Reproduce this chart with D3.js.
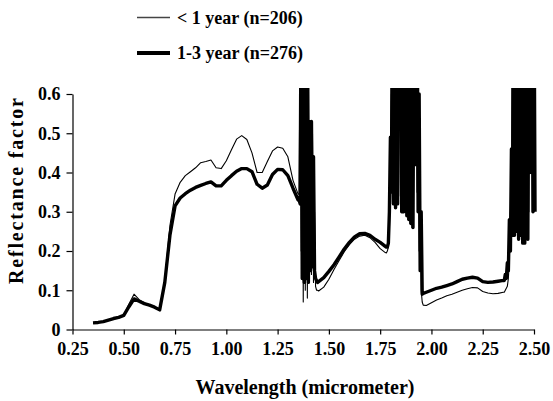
<!DOCTYPE html>
<html>
<head>
<meta charset="utf-8">
<script src="https://cdn.jsdelivr.net/npm/d3@7"></script>
<style>
    body { margin: 0; background: #fff; }
    text { font-family: "Liberation Serif", "Times New Roman", serif; font-weight: bold; fill: #000; }
</style>
</head>
<body>
<div id="chart"></div>
<script>
// sampling grid of the spectra (finer where the water bands are noisy)
const wavelength = [
    ...d3.range(0.35, 1.3501, 0.025),
    ...d3.range(1.355, 1.4451, 0.005),
    ...d3.range(1.45, 1.7751, 0.025),
    ...d3.range(1.78, 1.9601, 0.005),
    ...d3.range(1.975, 2.3501, 0.025),
    ...d3.range(2.355, 2.5051, 0.005)
];

// < 1 year (n=206)
const lessThan1Year = [
    0.016, 0.017, 0.019, 0.023, 0.027, 0.030, 0.036, 0.065, 0.090, 0.076, 0.068, 0.063, 0.058, 0.050,
    0.125, 0.265, 0.345, 0.375, 0.392, 0.402, 0.412, 0.425, 0.428, 0.432, 0.412, 0.410, 0.430, 0.458,
    0.485, 0.494, 0.484, 0.450, 0.400, 0.400, 0.428, 0.455, 0.465, 0.462, 0.440, 0.380, 0.345,
    // 1.355 - 1.445
    0.345, 0.80, 0.20, 0.85, 0.07, 0.90, 0.10, 0.80, 0.08, 0.70, 0.12, 0.45, 0.14, 0.50, 0.12, 0.30, 0.11, 0.10, 0.10,
    // 1.45 - 1.775
    0.098, 0.108, 0.128, 0.153, 0.176, 0.198, 0.216, 0.230, 0.238, 0.240, 0.234, 0.222, 0.206, 0.196,
    // 1.78 - 1.96
    0.195, 0.20, 0.21, 0.25, 0.40, 0.60, 0.32, 0.90, 0.31, 0.85, 0.33, 0.90, 0.34, 0.90, 0.85, 0.90, 0.30, 0.85, 0.31,
    0.90, 0.85, 0.28, 0.90, 0.27, 0.80, 0.26, 0.85, 0.90, 0.85, 0.90, 0.35, 0.70, 0.20, 0.40, 0.10, 0.07, 0.062,
    // 1.975 - 2.35
    0.061, 0.068, 0.075, 0.080, 0.086, 0.090, 0.095, 0.100, 0.104, 0.107, 0.106, 0.097, 0.093, 0.091, 0.092, 0.095,
    // 2.355 - 2.505
    0.095, 0.10, 0.105, 0.11, 0.13, 0.18, 0.30, 0.25, 0.80, 0.26, 0.90, 0.25, 0.85, 0.24, 0.90, 0.25,
    0.85, 0.23, 0.90, 0.24, 0.80, 0.50, 0.90, 0.85, 0.30, 0.90, 0.85, 0.90, 0.85, 0.30, 0.90
];

// 1-3 year (n=276)
const oneTo3Year = [
    0.017, 0.018, 0.020, 0.024, 0.028, 0.031, 0.036, 0.058, 0.078, 0.072, 0.066, 0.062, 0.057, 0.050,
    0.120, 0.240, 0.315, 0.335, 0.346, 0.355, 0.362, 0.367, 0.372, 0.376, 0.366, 0.366, 0.380, 0.392,
    0.403, 0.410, 0.410, 0.402, 0.370, 0.360, 0.368, 0.395, 0.408, 0.407, 0.392, 0.360, 0.330,
    // 1.355 - 1.445
    0.33, 0.32, 0.90, 0.13, 0.95, 0.12, 0.85, 0.13, 0.90, 0.12, 0.53, 0.15, 0.53, 0.16, 0.44, 0.15, 0.13, 0.125, 0.12,
    // 1.45 - 1.775
    0.122, 0.132, 0.148, 0.165, 0.185, 0.205, 0.222, 0.236, 0.244, 0.245, 0.240, 0.230, 0.222, 0.212,
    // 1.78 - 1.96
    0.21, 0.21, 0.22, 0.30, 0.49, 0.35, 0.95, 0.32, 0.95, 0.31, 0.90, 0.32, 0.90, 0.85, 0.90, 0.30, 0.95, 0.30, 0.90,
    0.70, 0.29, 0.90, 0.28, 0.85, 0.27, 0.80, 0.26, 0.85, 0.80, 0.42, 0.90, 0.30, 0.60, 0.15, 0.30, 0.09, 0.092,
    // 1.975 - 2.35
    0.095, 0.100, 0.105, 0.108, 0.112, 0.116, 0.122, 0.128, 0.131, 0.133, 0.131, 0.122, 0.120, 0.121, 0.123, 0.125,
    // 2.355 - 2.505
    0.125, 0.14, 0.13, 0.17, 0.15, 0.28, 0.20, 0.46, 0.24, 0.95, 0.24, 0.90, 0.25, 0.95, 0.23, 0.90,
    0.24, 0.85, 0.22, 0.90, 0.22, 0.85, 0.85, 0.23, 0.90, 0.40, 0.95, 0.90, 0.30, 0.90, 0.30
];

const xTicks = [0.25, 0.50, 0.75, 1.00, 1.25, 1.50, 1.75, 2.00, 2.25, 2.50];
const yTicks = [0, 0.1, 0.2, 0.3, 0.4, 0.5, 0.6];
const seriesNames = ['< 1 year (n=206)', '1-3 year (n=276)'];

const width = 553;
const height = 401;

const svg = d3.select('#chart').append('svg')
    .attr('width', width)
    .attr('height', height);

const x = d3.scaleLinear().domain([0.25, 2.5]).range([72.5, 534]);
const y = d3.scaleLinear().domain([0, 0.6]).range([329.5, 94]);

// axes
const xAxis = svg.append('g')
    .attr('transform', `translate(0,${y(0)})`)
    .call(d3.axisBottom(x).tickValues(xTicks).tickFormat(d3.format('.2f')).tickSize(5).tickSizeOuter(0));
xAxis.selectAll('text').attr('dy', '0.95em').style('font-size', '18px');

const yAxis = svg.append('g')
    .attr('transform', `translate(${x(0.25)},0)`)
    .call(d3.axisLeft(y).tickValues(yTicks).tickFormat(d => d === 0 ? '0' : d3.format('.1f')(d)).tickSize(6).tickSizeOuter(0));
yAxis.selectAll('text').attr('x', -12).style('font-size', '18px');

svg.selectAll('.domain, .tick line').attr('stroke', '#000').attr('stroke-width', 1.2);

// clip the spectra at the top of the plot
svg.append('clipPath').attr('id', 'plot-clip')
    .append('rect')
    .attr('x', x(0.25)).attr('y', 88)
    .attr('width', x(2.5) - x(0.25) + 4).attr('height', y(0) - 88);

const line = values => d3.line()
    .x((d, i) => x(wavelength[i]))
    .y(d => y(d))(values);

const body = svg.append('g').attr('clip-path', 'url(#plot-clip)');

body.append('path')
    .attr('d', line(oneTo3Year))
    .attr('fill', 'none')
    .attr('stroke', '#000')
    .attr('stroke-width', 3.4)
    .attr('stroke-linejoin', 'round');

body.append('path')
    .attr('d', line(lessThan1Year))
    .attr('fill', 'none')
    .attr('stroke', '#000')
    .attr('stroke-width', 1.1)
    .attr('stroke-linejoin', 'round');

// legend
const legend = svg.append('g');
const legendStyles = [{ w: 1.3, c: '#444', y: 17.5 }, { w: 4, c: '#000', y: 53 }];
seriesNames.forEach((name, i) => {
    const s = legendStyles[i];
    legend.append('line')
        .attr('x1', 137).attr('x2', 170)
        .attr('y1', s.y).attr('y2', s.y)
        .attr('stroke', s.c)
        .attr('stroke-width', s.w);
    legend.append('text')
        .attr('x', 177).attr('y', s.y + 6)
        .style('font-size', '18px')
        .text(name);
});

// axis titles
svg.append('text')
    .attr('x', 305).attr('y', 394)
    .attr('text-anchor', 'middle')
    .style('font-size', '20px')
    .text('Wavelength (micrometer)');

svg.append('text')
    .attr('transform', 'translate(23,191) rotate(-90)')
    .attr('text-anchor', 'middle')
    .attr('textLength', 186)
    .attr('lengthAdjust', 'spacing')
    .style('font-size', '20px')
    .text('Reflectance factor');
</script>
</body>
</html>
